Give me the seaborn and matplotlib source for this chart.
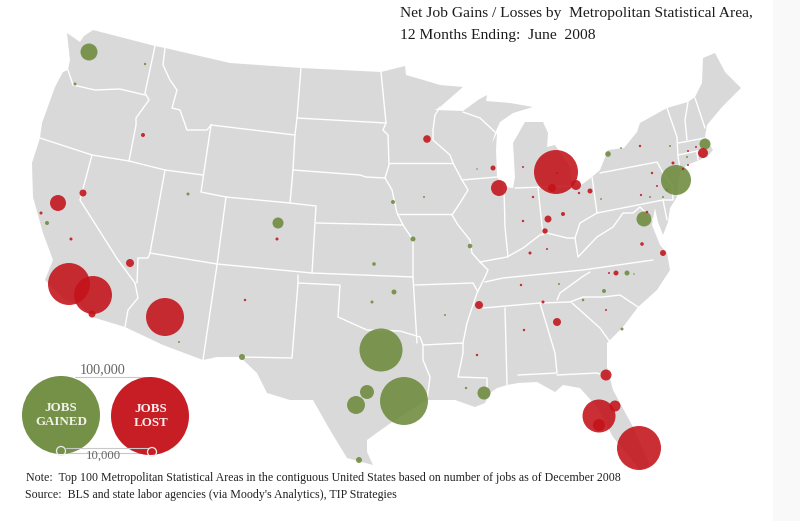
import matplotlib
matplotlib.use('Agg')
import matplotlib.pyplot as plt
import pandas as pd
import seaborn as sns

# map is traced in image coordinates, 800 x 521
land_outline = [(93, 30), (155, 46), (165, 48), (230, 63), (301, 68), (381, 72), (405, 66), (406, 75), (420, 79),
                (440, 85), (463, 87), (440, 107), (435, 110), (463, 111), (478, 100), (487, 95), (486, 101), (510, 103),
                (533, 107), (513, 113), (500, 122), (495, 133), (492, 143), (497, 133), (496, 150), (497, 177),
                (505, 187), (513, 188), (515, 177), (513, 143), (525, 122), (543, 122), (548, 133), (547, 147),
                (555, 145), (563, 157), (570, 167), (572, 182), (580, 186), (592, 177), (600, 170), (608, 150),
                (624, 148), (637, 132), (640, 123), (667, 108), (688, 102), (695, 97), (702, 83), (703, 58),
                (715, 53), (725, 72), (741, 88), (722, 107), (707, 125), (705, 137), (713, 150), (707, 157),
                (687, 165), (680, 172), (678, 185), (677, 197), (670, 208), (668, 222), (663, 235), (658, 222),
                (655, 208), (652, 225), (660, 245), (667, 253), (670, 270), (657, 290), (638, 307), (623, 327),
                (607, 343), (607, 367), (613, 390), (633, 427), (650, 465), (640, 470), (613, 437), (597, 407),
                (580, 388), (563, 385), (555, 392), (537, 382), (518, 383), (507, 385), (497, 388), (490, 393),
                (485, 403), (475, 407), (455, 400), (427, 400), (395, 420), (378, 432), (367, 440), (367, 452),
                (373, 465), (347, 458), (330, 430), (313, 400), (290, 400), (267, 393), (257, 373), (240, 357),
                (217, 357), (203, 360), (163, 345), (125, 327), (92, 317), (80, 305), (65, 300), (45, 280), (53, 260),
                (43, 233), (33, 197), (32, 163), (40, 138), (42, 123), (55, 87), (63, 72), (68, 70), (70, 60),
                (67, 33), (80, 42), (84, 36)]

west_borders = [
    [(155, 46), (145, 93), (149, 100), (136, 118), (136, 125), (129, 161)],
    [(68, 70), (73, 85), (95, 90), (120, 89), (145, 95)],
    [(40, 138), (92, 155), (129, 161), (165, 170), (203, 175)],
    [(92, 155), (80, 200), (118, 260), (135, 283), (138, 298), (128, 310), (125, 327)],
    [(165, 170), (150, 253), (148, 258), (138, 258), (137, 283)],
    [(226, 197), (217, 265), (203, 360)],
    [(165, 48), (163, 65), (170, 80), (177, 90), (172, 108), (180, 110), (187, 130), (207, 130), (211, 125)],
    [(211, 125), (201, 192), (226, 197), (290, 203), (316, 206), (312, 273)],
    [(211, 125), (295, 135)],
    [(301, 68), (297, 118), (295, 135), (293, 170), (290, 203)],
    [(150, 253), (217, 264), (312, 273), (413, 277)],
    [(298, 275), (298, 283), (292, 358), (240, 357)],
]

central_borders = [
    [(297, 118), (386, 123)],
    [(381, 72), (386, 123), (383, 130), (388, 135), (389, 165), (385, 178)],
    [(293, 170), (360, 175), (366, 177), (385, 178), (392, 190), (397, 213), (403, 225), (413, 240), (413, 277),
     (417, 343)],
    [(316, 223), (403, 225)],
    [(389, 163), (453, 163)],
    [(397, 214), (452, 214)],
    [(440, 107), (435, 115), (433, 130), (433, 140), (450, 155), (453, 163), (462, 180), (468, 190), (460, 203),
     (452, 215), (458, 225), (470, 240), (472, 253), (480, 262), (488, 270), (485, 277), (477, 293), (467, 323),
     (463, 343), (463, 353), (458, 377), (487, 378), (487, 388)],
    [(462, 180), (497, 177)],
    [(298, 283), (340, 285), (338, 317), (367, 330), (400, 331), (420, 337), (423, 345), (423, 360), (430, 377),
     (427, 400)],
    [(423, 345), (463, 343)],
    [(415, 285), (473, 283), (478, 292)],
    [(463, 112), (480, 118), (495, 132)],
]

east_borders = [
    [(504, 188), (505, 227), (508, 257)],
    [(480, 262), (507, 257), (523, 248), (540, 235), (547, 233), (567, 238), (575, 238), (580, 223), (597, 213)],
    [(515, 188), (572, 186)],
    [(538, 188), (543, 235)],
    [(592, 177), (597, 213), (663, 200), (667, 220)],
    [(600, 173), (657, 162), (663, 173), (672, 185), (673, 200), (663, 200)],
    [(575, 238), (578, 257), (597, 237), (613, 227), (623, 213), (633, 213), (640, 207), (655, 222)],
    [(485, 282), (503, 278), (583, 270), (653, 260)],
    [(590, 272), (582, 277), (560, 293), (557, 300)],
    [(483, 308), (540, 303), (570, 302)],
    [(570, 302), (583, 297), (603, 297), (620, 295), (638, 307)],
    [(505, 308), (507, 385)],
    [(540, 303), (555, 353), (557, 373), (518, 375)],
    [(557, 375), (597, 373), (602, 375)],
    [(572, 303), (600, 328), (610, 342)],
    [(667, 108), (677, 137), (678, 157), (680, 168)],
    [(678, 143), (705, 138)],
    [(678, 155), (702, 150)],
    [(688, 102), (685, 120), (687, 140)],
    [(695, 98), (705, 128)],
    [(697, 152), (698, 160)],
]

metro_x = [556, 69, 93, 165, 639, 599, 615, 599, 606, 499, 576, 552, 58, 130, 83, 92, 143, 41, 71, 557, 479, 548,
           563, 545, 590, 579, 493, 427, 616, 609, 642, 663, 647, 703, 696, 688, 688, 673, 683, 640, 652, 657, 641,
           533, 523, 530, 547, 523, 245, 277, 477, 524, 543, 521, 606, 557,
           404, 381, 356, 367, 89, 676, 644, 705, 278, 484, 608, 242, 359, 627, 604, 394, 413, 470, 393, 374, 372,
           622, 583, 559, 466, 445, 47, 75, 145, 188, 179, 477, 424, 601, 621, 670, 667, 663, 650, 687, 634]
metro_y = [172, 284, 295, 317, 448, 416, 406, 425, 375, 188, 185, 188, 203, 263, 193, 314, 135, 213, 239, 322, 305,
           219, 214, 231, 191, 193, 168, 139, 273, 273, 244, 253, 212, 153, 147, 151, 165, 163, 169, 146, 173, 186,
           195, 197, 167, 253, 249, 221, 300, 239, 355, 330, 302, 285, 310, 173,
           401, 350, 405, 392, 52, 180, 219, 144, 223, 393, 154, 357, 460, 273, 291, 292, 239, 246, 202, 264, 302,
           329, 300, 284, 388, 315, 223, 84, 64, 194, 342, 169, 197, 199, 148, 146, 190, 197, 197, 157, 274]
metro_jobs = [-31800, -29000, -23700, -23700, -31800, -17900, -2000, -2400, -2000, -4200, -1640, -1050, -4200, -1050,
              -800, -800, -265, -150, -150, -1050, -1050, -800, -265, -480, -410, -95, -410, -950, -410, -65, -215,
              -590, -95, -1640, -65, -65, -65, -150, -95, -95, -95, -65, -80, -95, -65, -150, -65, -95, -95, -150,
              -95, -95, -150, -95, -65, -65,
              37800, 30400, 5300, 3200, 4750, 14800, 3700, 2000, 2000, 2800, 515, 590, 590, 410, 265, 410, 410, 350,
              265, 215, 150, 150, 110, 65, 95, 65, 265, 150, 95, 150, 65, 40, 65, 55, 55, 65, 150, 65, 65, 65, 40]

legend_jobs = [100000, -100000]
legend_labels = ['JOBS\nGAINED', 'JOBS\nLOST']
scale_labels = ['100,000', '10,000']

title_lines = ['Net Job Gains / Losses by  Metropolitan Statistical Area,', '12 Months Ending:  June  2008']
note_text = 'Note:  Top 100 Metropolitan Statistical Areas in the contiguous United States based on number of jobs as of December 2008'
source_text = "Source:  BLS and state labor agencies (via Moody's Analytics), TIP Strategies"

LAND = '#d9d9d9'
GREEN = '#6d8b3d'
RED = '#c4121a'
FULL_SIZE = 3154  # marker area for 100,000 jobs


def draw_map(ax):
    ax.fill(*zip(*land_outline), color=LAND, lw=0, zorder=1)
    for line in west_borders + central_borders + east_borders:
        ax.plot(*zip(*line), color='white', lw=1.0, solid_joinstyle='round', zorder=2)


def draw_bubbles(ax, df, alpha):
    df = df.assign(kind=['gain' if v > 0 else 'loss' for v in df['jobs']], size_jobs=df['jobs'].abs())
    df = df.sort_values('size_jobs', ascending=False)
    sns.scatterplot(data=df, x='x', y='y', hue='kind', size='size_jobs', palette={'gain': GREEN, 'loss': RED},
                    sizes=(0, FULL_SIZE), size_norm=(0, 100000), linewidth=0, alpha=alpha, legend=False, ax=ax,
                    zorder=3)


sns.set_theme(style='white')
plt.rcParams['font.family'] = ['Liberation Serif', 'DejaVu Serif']

fig, ax = plt.subplots(figsize=(8, 5.21), dpi=100)
fig.subplots_adjust(0, 0, 1, 1)
ax.set_xlim(0, 800)
ax.set_ylim(521, 0)
ax.axis('off')
ax.axvspan(773, 800, color='#f9f9f9', lw=0, zorder=0)

draw_map(ax)
metros = pd.DataFrame({'x': metro_x, 'y': metro_y, 'jobs': metro_jobs})
draw_bubbles(ax, metros, 0.88)

legend_df = pd.DataFrame({'x': [61, 150], 'y': [415, 416], 'jobs': legend_jobs})
draw_bubbles(ax, legend_df, 0.95)
ax.plot([75, 145], [376.5, 376.5], color='#c8c8c8', lw=0.8, zorder=2)
ax.plot([66, 148], [447.5, 447.5], color='#c8c8c8', lw=0.8, zorder=4)
ax.plot([66, 148], [453, 453], color='#c8c8c8', lw=0.8, zorder=2)
ax.scatter([61, 152], [451, 452], s=42, facecolor='none', edgecolor='#ececec', lw=0.9, zorder=5)

ax.text(103, 370, scale_labels[0], fontsize=10.2, color='#666666', ha='center', va='center', zorder=6)
ax.text(103, 456, scale_labels[1], fontsize=9.2, color='#666666', ha='center', va='center', zorder=6)
ax.text(61, 415, legend_labels[0], fontsize=9.4, color='#f2f2ea', ha='center', va='center', linespacing=1.25,
        fontweight='bold', zorder=6)
ax.text(151, 416, legend_labels[1], fontsize=9.4, color='#f8eeee', ha='center', va='center', linespacing=1.25,
        fontweight='bold', zorder=6)

ax.text(400, 14, title_lines[0], fontsize=11.15, color='#1c1c1c', ha='left', va='center', zorder=6)
ax.text(400, 35, title_lines[1], fontsize=11.15, color='#1c1c1c', ha='left', va='center', zorder=6)
ax.text(26, 478, note_text, fontsize=8.6, color='#222222', ha='left', va='center', zorder=6)
ax.text(25, 495, source_text, fontsize=8.55, color='#222222', ha='left', va='center', zorder=6)

fig.savefig('out.png', dpi=100)
